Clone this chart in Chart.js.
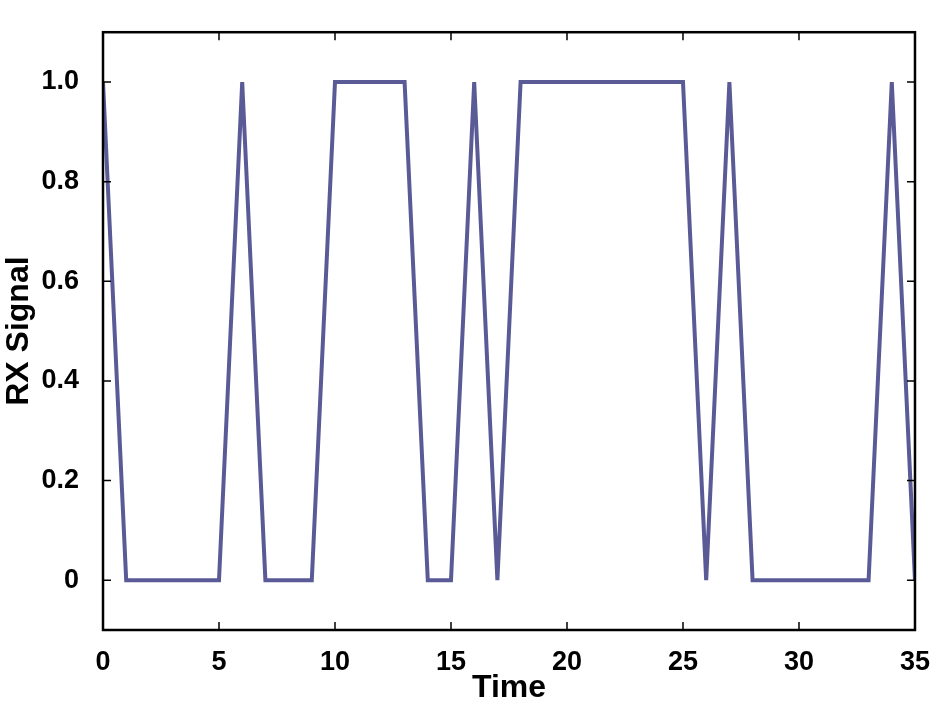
<!DOCTYPE html>
<html><head><meta charset="utf-8">
<script src="https://cdn.jsdelivr.net/npm/chart.js@4/dist/chart.umd.min.js"></script>
<style>html,body{margin:0;padding:0;background:#fff}#w{width:938px;height:707px}</style>
</head><body><div id="w"><canvas id="c"></canvas></div>
<script>
const times = [0,1,2,3,4,5,6,7,8,9,10,11,12,13,14,15,16,17,18,19,20,21,22,23,24,25,26,27,28,29,30,31,32,33,34,35];
const rxSignal = [1,0,0,0,0,0,1,0,0,0,1,1,1,1,0,0,1,0,1,1,1,1,1,1,1,1,0,1,0,0,0,0,0,0,1,0];
const xTicks = [0,5,10,15,20,25,30,35];
const yTicks = [0,0.2,0.4,0.6,0.8,1.0];

const inTicks = {
  id:'inTicks',
  afterDraw(chart){
    const {ctx, chartArea:a, scales:{x,y}} = chart;
    ctx.save(); ctx.strokeStyle='#000'; ctx.lineWidth=1.5;
    const L=8;
    xTicks.forEach(v=>{const p=x.getPixelForValue(v);
      ctx.beginPath();ctx.moveTo(p,a.bottom);ctx.lineTo(p,a.bottom-L);ctx.moveTo(p,a.top);ctx.lineTo(p,a.top+L);ctx.stroke();});
    yTicks.forEach(v=>{const p=y.getPixelForValue(v);
      ctx.beginPath();ctx.moveTo(a.left,p);ctx.lineTo(a.left+L,p);ctx.moveTo(a.right,p);ctx.lineTo(a.right-L,p);ctx.stroke();});
    ctx.lineWidth=2.5; ctx.strokeRect(a.left,a.top,a.right-a.left,a.bottom-a.top);
    ctx.restore();
  }
};
const font = {family:'"Liberation Sans", Arial, sans-serif', weight:'bold', size:27};
new Chart(document.getElementById('c'),{
  type:'scatter',
  data:{datasets:[{data:times.map((t,i)=>({x:t,y:rxSignal[i]})),showLine:true,borderColor:'#5a5a96',borderWidth:4,pointRadius:0,tension:0}]},
  options:{
    responsive:true,maintainAspectRatio:false,animation:false,
    layout:{padding:{top:-26,right:20,left:0,bottom:0}},
    plugins:{legend:{display:false},tooltip:{enabled:false}},
    scales:{
      x:{type:'linear',min:0,max:35,afterBuildTicks:s=>{s.ticks=xTicks.map(v=>({value:v}));},
        grid:{display:false},border:{display:false},
        ticks:{font,color:'#000',padding:8,maxRotation:0},
        title:{display:true,text:'Time',font:{...font,size:32},color:'#000',padding:{top:-10,bottom:0}},
        afterFit:s=>{s.height=77;}},
      y:{min:-0.1,max:1.1,afterBuildTicks:s=>{s.ticks=yTicks.map(v=>({value:v}));},
        grid:{display:false},border:{display:false},
        ticks:{font,color:'#000',padding:16,callback:v=>v===0?'0':v.toFixed(1)},
        title:{display:true,text:'RX Signal',font:{...font,size:32},color:'#000',padding:{top:0,bottom:2}},
        afterFit:s=>{s.width=103;}}
    }
  },
  plugins:[inTicks]
});
</script></body></html>
